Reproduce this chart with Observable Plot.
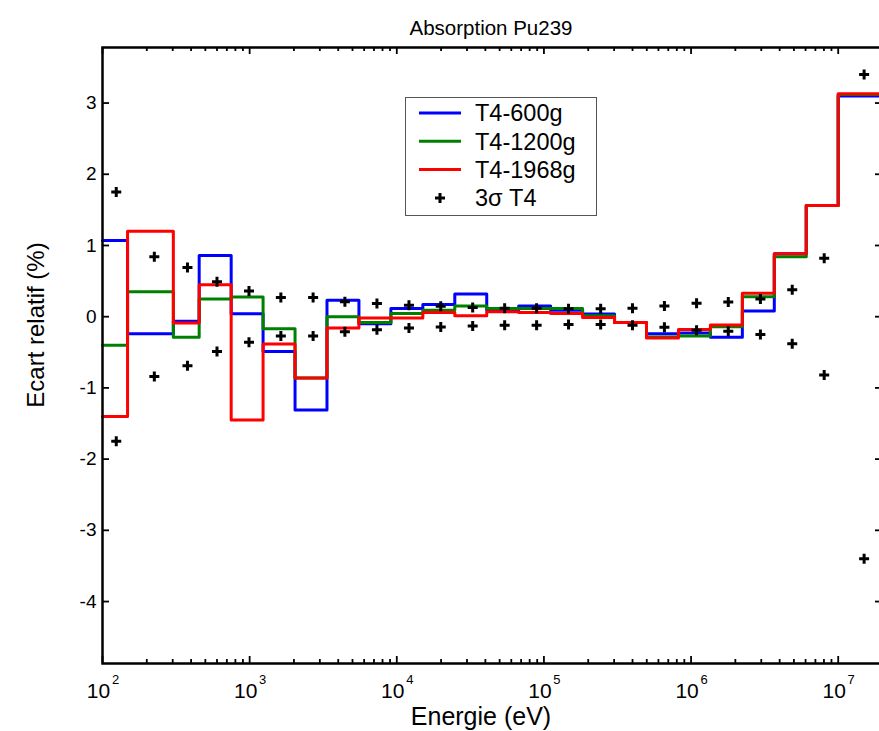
<!DOCTYPE html>
<html><head><meta charset="utf-8">
<script src="https://cdn.jsdelivr.net/npm/d3@7"></script>
<script src="https://cdn.jsdelivr.net/npm/@observablehq/plot@0.6"></script>
<style>
html,body{margin:0;padding:0;background:#fff;overflow:hidden;}
#chart{width:879px;height:731px;overflow:hidden;position:relative;}
#chart svg{max-width:none !important;width:885px !important;height:731px !important;}
</style></head><body><div id="chart"></div>
<script>
// Energy group boundaries (eV)
const bounds = [100, 148, 303, 454, 749, 1234, 2035, 3355, 5531, 9119, 15034, 24788, 40868, 67379, 111090, 183156, 301974, 497871, 820850, 1353353, 2231302, 3678794, 6065307, 10000000, 20000000];
// Relative deviation (%) per group
const t4_600g  = [1.07, -0.24, -0.065, 0.86, 0.04, -0.49, -1.31, 0.23, -0.10, 0.115, 0.17, 0.32, 0.09, 0.15, 0.09, 0.037, -0.08, -0.24, -0.23, -0.29, 0.08, 0.885, 1.56, 3.10];
const t4_1200g = [-0.40, 0.35, -0.29, 0.25, 0.275, -0.17, -0.86, 0.0, -0.08, 0.046, 0.09, 0.15, 0.115, 0.115, 0.115, 0.014, -0.08, -0.285, -0.27, -0.14, 0.28, 0.84, 1.56, 3.12];
const t4_1968g = [-1.40, 1.20, -0.09, 0.45, -1.45, -0.385, -0.86, -0.16, -0.02, -0.02, 0.06, 0.014, 0.07, 0.06, 0.046, -0.01, -0.08, -0.30, -0.18, -0.115, 0.33, 0.885, 1.56, 3.13];
// 3 sigma uncertainty markers
const sigmaE = [124, 225, 378, 600, 990, 1630, 2700, 4440, 7330, 12100, 19900, 32800, 54100, 89200, 147000, 243000, 400000, 659000, 1090000, 1790000, 2960000, 4870000, 8030000, 15000000];
const sigma3 = [1.75, 0.84, 0.69, 0.49, 0.36, 0.27, 0.27, 0.21, 0.185, 0.16, 0.145, 0.13, 0.12, 0.12, 0.11, 0.11, 0.12, 0.15, 0.19, 0.205, 0.25, 0.38, 0.82, 3.40];

const seriesNames = ["T4-600g", "T4-1200g", "T4-1968g"];
const seriesColors = ["#0000ff", "#008000", "#ff0000"];
const sigmaLabel = "3σ T4";
const titleText = "Absorption Pu239";
const xLabel = "Energie (eV)";
const yLabel = "Ecart relatif (%)";
const yTicks = [-4, -3, -2, -1, 0, 1, 2, 3];
const yTickLabels = ["-4", "-3", "-2", "-1", "0", "1", "2", "3"];
const xTicks = [1e2, 1e3, 1e4, 1e5, 1e6, 1e7];
const xTickBase = ["10", "10", "10", "10", "10", "10"];
const xTickExp = ["2", "3", "4", "5", "6", "7"];

function steps(values, name) {
  const pts = values.map((v, i) => ({E: bounds[i], v, name}));
  pts.push({E: bounds[bounds.length - 1], v: values[values.length - 1], name});
  return pts;
}
const minorTicks = [];
for (let k = 2; k < 8; k++) for (let m = 2; m < 10; m++) { const v = m * 10 ** k; if (v < 2e7) minorTicks.push(v); }

const plusSymbol = {draw(ctx, size) { const r = Math.sqrt(size / Math.PI); ctx.moveTo(-r, 0); ctx.lineTo(r, 0); ctx.moveTo(0, -r); ctx.lineTo(0, r); }};

const W = 885, H = 731, mL = 102, mR = 3, mT = 47, mB = 68;
const plotH = H - mT - mB, plotW = W - mL - mR;
const font = "'Liberation Sans', Arial, sans-serif";

const chart = Plot.plot({
  width: W, height: H, marginLeft: mL, marginRight: mR, marginTop: mT, marginBottom: mB,
  style: {fontFamily: font, background: "white", color: "black"},
  x: {type: "log", domain: [100, 2e7], axis: null},
  y: {domain: [-4.87, 3.78], axis: null},
  marks: [
    Plot.line(steps(t4_600g), {x: "E", y: "v", curve: "step-after", stroke: seriesColors[0], strokeWidth: 3}),
    Plot.line(steps(t4_1200g), {x: "E", y: "v", curve: "step-after", stroke: seriesColors[1], strokeWidth: 3}),
    Plot.line(steps(t4_1968g), {x: "E", y: "v", curve: "step-after", stroke: seriesColors[2], strokeWidth: 3}),
    Plot.dot(sigmaE, {x: d => d, y: (d, i) => sigma3[i], symbol: plusSymbol, r: 5, stroke: "black", strokeWidth: 3}),
    Plot.dot(sigmaE, {x: d => d, y: (d, i) => -sigma3[i], symbol: plusSymbol, r: 5, stroke: "black", strokeWidth: 3}),
    Plot.ruleX(xTicks, {insetTop: plotH - 7, stroke: "black", strokeWidth: 1.8}),
    Plot.ruleX(xTicks, {insetBottom: plotH - 7, stroke: "black", strokeWidth: 1.8}),
    Plot.ruleX(minorTicks, {insetTop: plotH - 4, stroke: "black", strokeWidth: 1.8}),
    Plot.ruleX(minorTicks, {insetBottom: plotH - 4, stroke: "black", strokeWidth: 1.8}),
    Plot.ruleY(yTicks, {insetRight: plotW - 7, stroke: "black", strokeWidth: 1.8}),
    Plot.ruleY(yTicks, {insetLeft: plotW - 7, stroke: "black", strokeWidth: 1.8}),
    Plot.frame({stroke: "black", strokeWidth: 2.5}),
    Plot.text(yTicks, {y: d => d, text: (d, i) => yTickLabels[i], frameAnchor: "left", textAnchor: "end", dx: -6, fontSize: 19}),
    Plot.text(xTicks, {x: d => d, text: (d, i) => xTickBase[i], frameAnchor: "bottom", dy: 34, dx: -4, fontSize: 21}),
    Plot.text(xTicks, {x: d => d, text: (d, i) => xTickExp[i], frameAnchor: "bottom", dy: 20, dx: 13, fontSize: 13})
  ]
});
document.getElementById("chart").appendChild(chart);

const svg = d3.select(chart);
svg.append("text").attr("x", 491).attr("y", 35).attr("text-anchor", "middle")
  .attr("font-family", font).attr("font-size", 20.5).attr("fill", "black").text(titleText);
svg.append("text").attr("x", 481).attr("y", 725).attr("text-anchor", "middle")
  .attr("font-family", font).attr("font-size", 25).attr("fill", "black").text(xLabel);
svg.append("text").attr("transform", "translate(44,325) rotate(-90)").attr("text-anchor", "middle")
  .attr("font-family", font).attr("font-size", 24).attr("fill", "black").text(yLabel);

const lg = svg.append("g");
lg.append("rect").attr("x", 405.5).attr("y", 97.5).attr("width", 191).attr("height", 118)
  .attr("fill", "white").attr("stroke", "#555").attr("stroke-width", 1);
seriesNames.forEach((name, i) => {
  const y = 113 + i * 28.3;
  lg.append("line").attr("x1", 419).attr("x2", 461).attr("y1", y).attr("y2", y)
    .attr("stroke", seriesColors[i]).attr("stroke-width", 3);
  lg.append("text").attr("x", 475).attr("y", y).attr("dy", "0.35em").attr("text-anchor", "start")
    .attr("font-family", font).attr("font-size", 23.5).attr("fill", "black").text(name);
});
lg.append("path").attr("d", "M435,198H445M440,193V203").attr("stroke", "black").attr("stroke-width", 3);
lg.append("text").attr("x", 475).attr("y", 198).attr("dy", "0.35em").attr("text-anchor", "start")
  .attr("font-family", font).attr("font-size", 23.5).attr("fill", "black").text(sigmaLabel);
</script></body></html>
